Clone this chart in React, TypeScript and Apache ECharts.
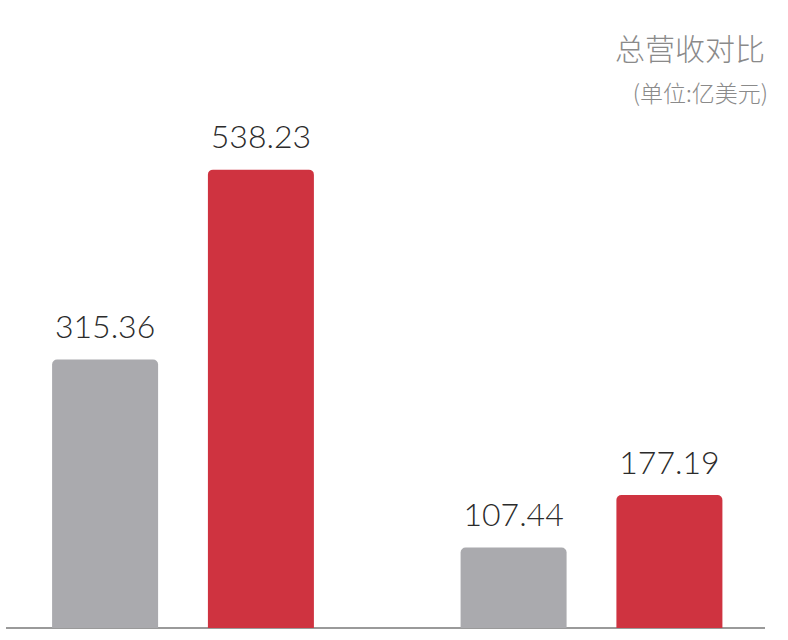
import React, { useEffect, useRef } from "react";
import * as echarts from "echarts";

// Revenue comparison, two groups of two bars (grey = earlier, red = later)
const groupLabels = ["", ""];
const greyValues = [315.36, 107.44];
const redValues = [538.23, 177.19];
const axisMax = [620, 704];

const titleText = "总营收对比";
const unitText = "(单位:亿美元)";

const GREY = "#aaaaae";
const RED = "#cf3340";

export default function App() {
  const ref = useRef<HTMLDivElement>(null);

  useEffect(() => {
    document.body.style.margin = "0";
    const chart = echarts.init(ref.current!, null, { renderer: "svg" });

    const labelStyle = {
      show: true,
      position: "top" as const,
      distance: 18,
      color: "#2b2b2b",
      fontSize: 32,
      fontFamily: "Lato",
      fontWeight: 300 as any,
      formatter: (p: any) => p.value.toFixed(2),
    };

    const grids = [
      { left: 6, width: 354, top: 100, bottom: 12 },
      { left: 418, width: 347, top: 100, bottom: 12 },
    ];

    const series: any[] = [];
    [0, 1].forEach((g) => {
      series.push({
        type: "bar",
        xAxisIndex: g,
        yAxisIndex: g,
        data: [greyValues[g]],
        barWidth: 106,
        barGap: "47%",
        itemStyle: { color: GREY, borderRadius: [5, 5, 0, 0] },
        label: labelStyle,
      });
      series.push({
        type: "bar",
        xAxisIndex: g,
        yAxisIndex: g,
        data: [redValues[g]],
        barWidth: 106,
        barGap: "47%",
        itemStyle: { color: RED, borderRadius: [5, 5, 0, 0] },
        label: labelStyle,
      });
    });

    chart.setOption({
      animation: false,
      backgroundColor: "#ffffff",
      title: [
        {
          text: titleText,
          right: 18,
          top: 27,
          textStyle: {
            color: "#8a8a8a",
            fontSize: 30,
            fontWeight: 300 as any,
            fontFamily: "Noto Sans CJK SC",
          },
        },
        {
          text: unitText,
          right: 15,
          top: 75,
          textStyle: {
            color: "#8a8a8a",
            fontSize: 23,
            fontWeight: 300 as any,
            fontFamily: "Noto Sans CJK SC",
          },
        },
      ],
      grid: grids,
      xAxis: [0, 1].map((g) => ({
        type: "category",
        gridIndex: g,
        data: [groupLabels[g]],
        axisLine: { show: false },
        axisTick: { show: false },
        axisLabel: { show: false },
      })),
      yAxis: [0, 1].map((g) => ({
        type: "value",
        gridIndex: g,
        min: 0,
        max: axisMax[g],
        show: false,
        splitLine: { show: false },
      })),
      series,
      graphic: [
        {
          type: "line",
          shape: { x1: 6, y1: 628, x2: 765, y2: 628 },
          style: { stroke: "#9a9a9a", lineWidth: 2 },
        },
      ],
    });

    return () => chart.dispose();
  }, []);

  return <div ref={ref} style={{ width: 788, height: 640 }} />;
}
